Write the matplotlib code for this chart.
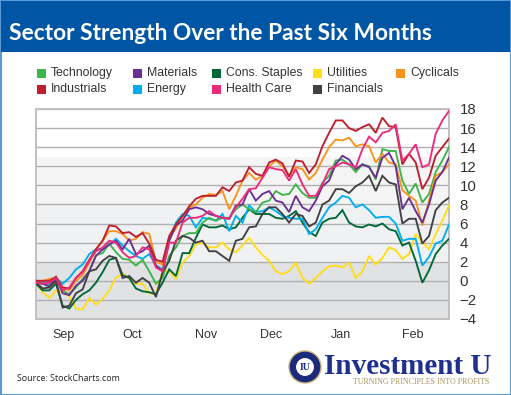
import matplotlib
matplotlib.use('Agg')
import matplotlib.pyplot as plt
from matplotlib.patches import Rectangle, Circle
import numpy as np

plt.rcParams['font.family'] = ['Liberation Sans', 'DejaVu Sans']

# sampled every other trading day
days = np.arange(0, 126, 2)
months = ['Sep', 'Oct', 'Nov', 'Dec', 'Jan', 'Feb']
month_days = [8.4, 28.8, 51, 70.6, 91.7, 113]
y_ticks = [18, 16, 14, 12, 10, 8, 6, 4, 2, 0, -2, -4]

technology = [-0.2, -0.3, -0.5, 0.5, -1.0, -1.4, -0.7, 0.2, 1.0, 2.7, 2.9, 3.9, 3.0, 2.3, 2.2, 1.6, 2.2, 1.0, -0.3, 0.3, 2.6, 3.5, 4.7, 5.0,
              5.0, 6.1, 6.6, 6.3, 6.6, 6.6, 7.5, 8.0, 7.5, 7.2, 8.2, 8.4, 9.4, 9.0, 9.1, 10.1, 9.2, 8.7, 8.7, 10.3, 11.0, 12.6,
              12.7, 12.2, 11.4, 12.2, 12.0, 10.6, 13.8, 13.6, 13.6, 10.5, 9.1, 10.2, 8.2, 9.1, 11.4, 12.6, 14.0]
materials = [-0.2, -0.3, -0.6, 0.3, -1.3, -1.5, -0.5, 0.0, 1.0, 2.6, 3.3, 3.8, 4.2, 3.3, 4.4, 2.8, 3.1, 3.7, 1.6, 1.0, 4.2, 5.8, 6.3, 7.5,
             7.7, 7.5, 7.0, 6.8, 6.6, 6.5, 7.9, 8.0, 9.6, 8.4, 9.1, 9.4, 8.4, 8.2, 7.2, 8.9, 7.7, 7.3, 8.4, 9.9, 10.5, 12.2,
             13.1, 12.7, 11.7, 12.2, 11.9, 10.8, 12.9, 13.4, 12.0, 7.5, 8.7, 7.3, 6.1, 8.0, 10.5, 11.4, 12.9]
staples = [-0.3, -1.0, -1.0, -0.3, -2.6, -2.9, -2.0, -1.4, -1.0, -0.2, 0.9, 2.2, 2.4, 0.6, 0.3, -0.8, -1.1, -1.2, -1.4, -0.2, 1.2, 0.5, 2.9, 2.9,
           4.5, 5.9, 5.6, 5.6, 5.8, 5.4, 5.6, 6.6, 7.5, 7.0, 7.0, 7.0, 6.6, 6.5, 6.8, 7.3, 6.1, 5.1, 4.7, 6.1, 6.5, 6.6,
           7.4, 6.1, 5.7, 5.6, 5.9, 5.7, 6.0, 5.4, 5.2, 3.7, 4.0, 2.1, -0.2, 1.1, 2.8, 3.7, 4.4]
utilities = [-0.2, -1.2, -1.8, -1.0, -1.2, -1.6, -2.9, -3.0, -1.8, -2.5, -1.9, -1.0, 0.3, 0.8, 0.2, -0.3, -0.3, -1.3, -1.4, 1.0, 1.0, 0.2, 1.9, 2.6,
             3.8, 4.0, 3.5, 3.5, 4.0, 3.3, 3.0, 3.7, 4.5, 3.5, 2.7, 2.1, 1.0, 0.7, 1.0, 1.9, 0.3, -0.3, 0.3, 1.0, 1.5, 1.6,
             1.4, 1.9, 0.3, 1.0, 2.6, 1.7, 2.4, 3.5, 3.2, 2.3, 2.8, 4.9, 4.0, 3.3, 4.9, 6.3, 7.9]
cyclicals = [0.0, 0.0, 0.2, 0.3, -0.7, -1.0, 0.0, 0.6, 1.9, 3.3, 4.2, 5.2, 5.2, 4.9, 4.2, 4.4, 5.1, 4.9, 2.0, 1.7, 4.5, 5.5, 6.7, 7.7,
             8.0, 8.7, 9.1, 9.0, 9.4, 7.5, 8.9, 10.5, 11.3, 10.6, 11.0, 12.0, 12.6, 12.0, 11.0, 11.9, 11.7, 10.6, 11.3, 12.7, 14.0, 14.8,
             14.7, 15.0, 14.1, 14.3, 14.1, 12.4, 13.3, 12.4, 12.2, 9.5, 8.9, 8.4, 5.8, 8.4, 11.0, 11.4, 12.2]
industrials = [0.0, 0.0, 0.0, 0.4, -0.7, -0.8, 0.3, 1.0, 2.2, 3.3, 4.2, 5.8, 5.7, 5.0, 5.1, 4.6, 5.0, 3.9, 2.2, 2.0, 4.7, 5.9, 6.8, 7.8,
               8.6, 8.9, 8.9, 8.9, 9.8, 9.4, 10.3, 10.5, 11.9, 11.2, 11.0, 12.4, 12.7, 12.3, 10.9, 12.6, 12.5, 11.3, 12.2, 14.1, 15.5, 16.8,
               16.8, 16.0, 15.7, 16.1, 16.4, 15.5, 17.1, 16.2, 16.1, 12.2, 13.3, 12.4, 9.6, 10.8, 13.1, 14.0, 14.9]
energy = [-0.1, -0.2, -0.3, 0.3, -0.3, 0.3, 1.2, 1.7, 2.8, 3.3, 3.3, 3.8, 4.4, 3.7, 3.1, 2.6, 2.3, 2.8, 1.6, 1.2, 4.2, 6.1, 7.0, 6.8,
          5.6, 6.6, 6.5, 6.3, 7.0, 5.2, 6.8, 6.1, 7.9, 7.2, 7.3, 7.7, 7.3, 6.8, 6.6, 6.5, 6.5, 4.9, 5.4, 6.6, 7.7, 8.2,
          8.9, 8.7, 7.7, 8.0, 7.4, 6.6, 6.7, 6.7, 6.0, 4.2, 4.4, 4.4, 1.6, 2.5, 3.9, 4.2, 5.9]
health_care = [-0.2, -0.3, -0.2, 0.3, -1.0, -0.7, 0.3, 0.9, 2.1, 3.1, 3.5, 4.2, 4.0, 3.0, 2.4, 2.6, 3.5, 3.3, 1.4, 1.0, 4.0, 4.0, 6.1, 6.6,
               6.6, 6.8, 7.3, 6.8, 6.6, 6.5, 7.7, 8.6, 9.6, 9.7, 10.8, 11.9, 11.7, 11.6, 10.5, 11.7, 10.1, 8.9, 8.9, 10.1, 11.7, 12.0,
               12.4, 12.2, 11.9, 13.8, 15.1, 14.5, 15.5, 15.7, 16.4, 12.6, 13.3, 14.3, 11.9, 12.2, 15.4, 16.8, 17.8]
financials = [-0.2, -0.8, -0.7, 0.0, -2.8, -2.6, -1.3, -0.9, 1.0, 1.2, 2.1, 2.6, 2.4, 0.3, 0.5, -0.2, 0.3, -0.2, -1.7, 0.9, 2.1, 4.2, 4.7, 4.5,
              4.0, 4.2, 3.1, 3.1, 2.6, 2.1, 4.2, 4.4, 5.6, 5.7, 7.0, 7.7, 7.7, 7.0, 6.1, 7.0, 6.8, 5.7, 6.1, 8.0, 8.4, 9.6,
              9.6, 9.2, 9.9, 10.3, 11.0, 9.4, 11.0, 10.3, 10.1, 6.0, 6.5, 6.5, 3.9, 4.7, 7.4, 8.2, 8.7]

# draw order, later ones sit on top
series = [
    (utilities, '#FFDE17'),
    (staples, '#006838'),
    (energy, '#00AEEF'),
    (technology, '#3FB44A'),
    (cyclicals, '#F7941D'),
    (materials, '#6A3192'),
    (financials, '#414042'),
    (industrials, '#BE1E2D'),
    (health_care, '#EE2A7B'),
]

legend_rows = [
    [('Technology', '#3FB44A', 37), ('Materials', '#6A3192', 133), ('Cons. Staples', '#006838', 212),
     ('Utilities', '#FFDE17', 313), ('Cyclicals', '#F7941D', 396)],
    [('Industrials', '#BE1E2D', 37), ('Energy', '#00AEEF', 133), ('Health Care', '#EE2A7B', 212),
     ('Financials', '#414042', 313)],
]

W, H = 511, 395
fig = plt.figure(figsize=(W / 100, H / 100), dpi=100, facecolor='white')

# overlay in pixel coords for the header, legend and footer
bg = fig.add_axes([0, 0, 1, 1])
bg.set_xlim(0, W)
bg.set_ylim(H, 0)
bg.axis('off')
bg.add_patch(Rectangle((0.5, 0.5), W - 1, H - 1, fc='white', ec='#5B9BD5', lw=1.5))
bg.add_patch(Rectangle((1, 1), W - 2, 50.5, fc='#0056A4', ec='none'))
bg.text(9, 34, 'Sector Strength Over the Past Six Months', color='white', fontsize=16.35,
        fontweight='bold', family='Lato', va='center', ha='left')

for row, y in zip(legend_rows, [73, 89]):
    for name, col, x in row:
        bg.add_patch(Rectangle((x, y - 4.5), 9, 9, fc=col, ec='none'))
        bg.text(x + 14, y, name, fontsize=8.8, color='#333333', va='center', ha='left')

bg.text(17, 378.5, 'Source: StockCharts.com', fontsize=6.4, color='#222222', family='Open Sans',
        va='center', ha='left')

# logo, text plus a simple seal
bg.add_patch(Circle((305, 367), 16, fc='#1B2A7B', ec='#C8B27A', lw=1))
bg.add_patch(Circle((305, 367), 9.5, fc='white', ec='#1B2A7B', lw=0.8))
bg.text(305, 367.5, 'IU', fontsize=7, fontweight='bold', family='Liberation Serif', color='#1B2A7B',
        ha='center', va='center')
bg.text(324, 366, 'Investment U', fontsize=21, fontweight='bold', family='Liberation Serif',
        color='#1F2F8F', ha='left', va='center')
bg.text(353, 382, 'TURNING PRINCIPLES INTO PROFITS', fontsize=5.7, family='Liberation Serif',
        color='#A8935A', ha='left', va='center')

ax = fig.add_axes([36 / W, 1 - 319 / H, (449 - 36) / W, (319 - 109) / H], facecolor='white')
ax.set_xlim(days[0], days[-1])
ax.set_ylim(-4, 18)

ax.axhspan(-4, 2, fc='#E1E2E4', ec='none', zorder=0)
ax.axhspan(2, 8, fc='#F0F1F2', ec='none', zorder=0)
ax.axhspan(8, 13, fc='#F5F5F5', ec='none', zorder=0)
ax.set_yticks(y_ticks)
ax.grid(axis='y', color='#B0B0B0', lw=1)
ax.set_axisbelow(True)

for vals, col in series:
    ax.plot(days, vals, color=col, lw=1.35, solid_joinstyle='miter', clip_on=True, zorder=3)

ax.yaxis.tick_right()
ax.tick_params(axis='y', length=0, pad=7.5, labelsize=10.8, labelcolor='#333333')
ax.set_xticks(month_days)
ax.set_xticklabels(months)
ax.tick_params(axis='x', length=0, pad=7.5, labelsize=9, labelcolor='#333333')
for sp in ax.spines.values():
    sp.set_color('#C0C0C0')
    sp.set_linewidth(1.4)

fig.savefig('out.png', dpi=100)
